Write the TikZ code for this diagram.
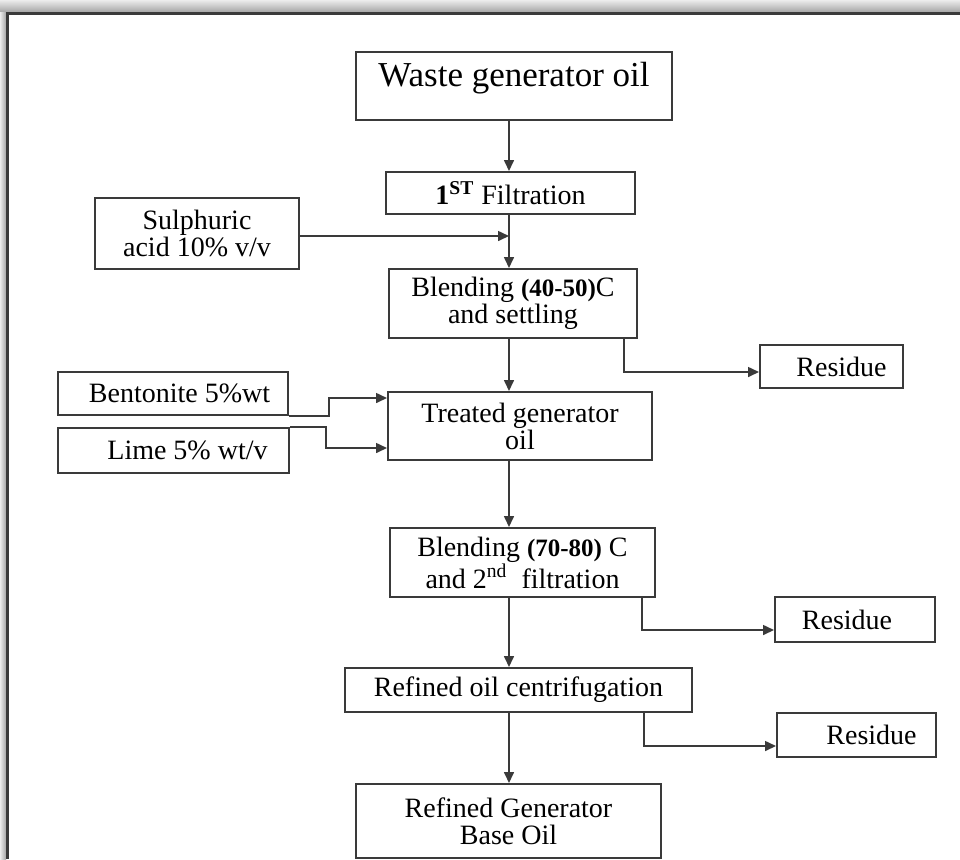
\documentclass[tikz,border=0pt]{standalone}
\usepackage{fontspec}
\setmainfont{Liberation Serif}
\usetikzlibrary{arrows.meta}

\definecolor{linegray}{HTML}{3A3A3A}
\newcommand{\bnum}[1]{{\bfseries\fontsize{12.5}{12}\selectfont #1}}

\tikzset{
	box/.style={shape=rectangle,draw=linegray,line width=1pt,inner sep=0pt,align=center,font=\fontsize{14}{13.5}\selectfont},
	flow/.style={draw=linegray,line width=0.8pt,-{Triangle[length=5.5pt,width=5pt]}},
}

\begin{document}
\begin{tikzpicture}[x=0.5pt,y=-0.5pt]
	\useasboundingbox (0,0) rectangle (960,859);
	
	% frame and its shadow
	\shade[top color=gray!15,bottom color=gray!70] (0,0) rectangle (960,12);
	\shade[left color=gray!15,right color=gray!70] (0,12) rectangle (6,859);
	\draw[linegray,line width=1.5pt] (7,859) -- (7,13) -- (960,13);
	
	\coordinate (axis) at (509,0);
	
	\node[box,minimum width=158pt,minimum height=34pt,text height=8pt,text depth=8pt,font=\fontsize{17.5}{21}\selectfont] (waste) at (514,86) {Waste generator oil};
	\node[box,minimum width=124.5pt,minimum height=21pt] (filt) at (510.5,193) {\textbf{1}\textsuperscript{\textbf{ST}} Filtration};
	\node[box,minimum width=102pt,minimum height=35.5pt] (sulph) at (197,233.5) {Sulphuric\\acid 10\% v/v};
	\node[box,minimum width=124pt,minimum height=34.5pt] (blend1) at (513,303.5) {Blending \bnum{(40-50)}C\\and settling};
	\node[box,minimum width=71.5pt,minimum height=21.5pt] (res1) at (831.5,366.5) {\hspace*{10pt}Residue};
	\node[box,minimum width=115pt,minimum height=21.5pt] (bent) at (173,393.5) {\hspace*{6.5pt}Bentonite 5\%wt};
	\node[box,minimum width=115.5pt,minimum height=22.5pt] (lime) at (173.5,450.5) {\hspace*{14pt}Lime 5\% wt/v};
	\node[box,minimum width=132pt,minimum height=34pt] (treated) at (520,426) {Treated generator\\oil};
	\node[box,minimum width=132.5pt,minimum height=34.5pt] (blend2) at (522.5,562.5) {Blending \bnum{(70-80)} C\\and 2\textsuperscript{nd}\ \ filtration};
	\node[box,minimum width=80pt,minimum height=22.5pt] (res2) at (855,619.5) {Residue\hspace*{8pt}};
	\node[box,minimum width=173.5pt,minimum height=22pt] (centr) at (518.5,690) {Refined oil centrifugation};
	\node[box,minimum width=79.5pt,minimum height=22pt] (res3) at (856.5,735) {\hspace*{15pt}Residue};
	\node[box,minimum width=152.5pt,minimum height=37pt] (final) at (508.5,821) {Refined Generator\\Base Oil};
	
	\path (waste.south -| axis) edge[flow] (filt.north -| axis);
	\path (filt.south -| axis) edge[flow] (blend1.north -| axis);
	\path ([yshift=-1.25pt]sulph.east) edge[flow] ([yshift=-1.25pt]sulph.east -| axis);
	\path (blend1.south -| axis) edge[flow] (treated.north -| axis);
	\path (treated.south -| axis) edge[flow] (blend2.north -| axis);
	\path (blend2.south -| axis) edge[flow] (centr.north -| axis);
	\path (centr.south -| axis) edge[flow] (final.north -| axis);
	
	\draw[flow] ([xshift=-7pt]blend1.south east) |- ([yshift=-2.75pt]res1.west);
	\draw[flow] ([xshift=-7pt]blend2.south east) |- ([yshift=-5.25pt]res2.west);
	\draw[flow] ([xshift=-24.5pt]centr.south east) |- ([yshift=-5.5pt]res3.west);
	\draw[flow] (bent.south east) -- ++(40,0) |- ([yshift=14pt]treated.west);
	\draw[flow] (lime.north east) -- ++(36,0) |- ([yshift=-11pt]treated.west);
	
\end{tikzpicture}
\end{document}
